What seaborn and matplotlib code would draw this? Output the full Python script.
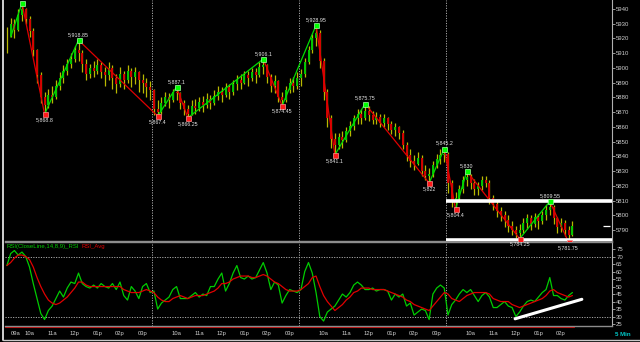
import matplotlib
matplotlib.use("Agg")
import matplotlib.pyplot as plt
from matplotlib.lines import Line2D
import numpy as np
import pandas as pd
import seaborn as sns

# ---------------- data (10-minute bars, 4 sessions) ----------------
close = [
    5922, 5930, 5926, 5936, 5940, 5933, 5925, 5912, 5895, 5880,
    5875, 5882, 5880, 5888, 5893, 5898, 5903, 5906, 5912, 5910,
    5903, 5896, 5900, 5898, 5902, 5897, 5895, 5900, 5893, 5889,
    5896, 5892, 5898, 5894, 5897, 5892, 5890, 5887, 5885,
    5872, 5870, 5876, 5880, 5878, 5884, 5883, 5876, 5872, 5869,
    5874, 5873, 5877, 5875, 5879, 5876, 5881, 5884, 5882, 5887,
    5884, 5889, 5892, 5890, 5895, 5893, 5897, 5895, 5901, 5902,
    5894, 5888, 5891, 5880, 5878, 5885, 5890, 5888, 5893,
    5896, 5904, 5912, 5920, 5924, 5905, 5884, 5866, 5852, 5848,
    5853, 5851, 5857, 5861, 5866, 5869, 5866, 5871, 5868, 5865,
    5867, 5863, 5866, 5862, 5858, 5860, 5856, 5848, 5841, 5837,
    5835, 5839, 5830, 5827, 5828, 5834, 5838, 5841, 5842,
    5822, 5810, 5812, 5818, 5824, 5826, 5822, 5818, 5820, 5824,
    5822, 5812, 5808, 5803, 5800, 5797, 5793, 5790, 5788, 5790,
    5795, 5798, 5794, 5799, 5796, 5800, 5804, 5806, 5798, 5792,
    5795, 5790, 5787, 5793,
]
high = [
    5928, 5934, 5933, 5940, 5944, 5941, 5935, 5927, 5913, 5897,
    5884, 5886, 5888, 5892, 5897, 5902, 5906, 5910, 5915, 5918.85,
    5912, 5906, 5903, 5905, 5906, 5904, 5901, 5904, 5902, 5896,
    5901, 5898, 5902, 5900, 5901, 5898, 5896, 5893, 5891,
    5886, 5878, 5880, 5884, 5883, 5886, 5887.1, 5884, 5878, 5875,
    5878, 5879, 5880, 5881, 5883, 5882, 5885, 5888, 5887, 5890,
    5889, 5892, 5895, 5896, 5898, 5898, 5900, 5900, 5904, 5906.1,
    5903, 5896, 5895, 5892, 5884, 5888, 5893, 5894, 5897,
    5899, 5907, 5915, 5923, 5928.95, 5926, 5907, 5886, 5868, 5856,
    5856, 5857, 5860, 5864, 5868, 5872, 5872, 5875.75, 5874, 5871,
    5870, 5869, 5869, 5867, 5864, 5863, 5861, 5858, 5850, 5845,
    5841, 5843, 5841, 5834, 5832, 5837, 5842, 5845, 5845.2,
    5843, 5824, 5816, 5821, 5827, 5830, 5828, 5825, 5823, 5827,
    5827, 5824, 5814, 5810, 5806, 5803, 5800, 5796, 5793, 5794,
    5798, 5801, 5800, 5802, 5801, 5803, 5807, 5809.55, 5807, 5799,
    5798, 5797, 5793, 5796,
]
low = [
    5910, 5921, 5920, 5925, 5932, 5930, 5921, 5908, 5890, 5876,
    5868.8, 5873, 5876, 5879, 5885, 5890, 5895, 5900, 5904, 5905,
    5897, 5892, 5893, 5894, 5896, 5893, 5888, 5892, 5886, 5883,
    5887, 5886, 5890, 5887, 5889, 5884, 5883, 5880, 5878,
    5868, 5867.4, 5869, 5874, 5873, 5877, 5878, 5872, 5868, 5866.25,
    5868, 5869, 5871, 5870, 5873, 5872, 5875, 5878, 5877, 5880,
    5879, 5882, 5885, 5886, 5889, 5888, 5891, 5890, 5894, 5896,
    5890, 5884, 5883, 5877, 5874.45, 5877, 5883, 5884, 5886,
    5888, 5894, 5903, 5910, 5915, 5900, 5878, 5860, 5846, 5841.1,
    5845, 5846, 5850, 5854, 5858, 5862, 5862, 5865, 5864, 5862,
    5862, 5860, 5860, 5858, 5855, 5854, 5852, 5845, 5837, 5833,
    5831, 5834, 5827, 5824, 5822, 5826, 5832, 5835, 5836,
    5815, 5806, 5804.4, 5809, 5815, 5820, 5818, 5814, 5814, 5817,
    5819, 5808, 5804, 5799, 5796, 5792, 5789, 5787, 5785, 5784.25,
    5788, 5791, 5790, 5792, 5791, 5794, 5797, 5800, 5794, 5788,
    5789, 5786, 5781.75, 5786,
]
rsi = [
    64, 72, 74, 71, 73, 70, 63, 52, 42, 32,
    28, 34, 37, 42, 47, 43, 49, 53, 52, 59,
    52, 50, 49, 51, 49, 52, 50, 49, 52, 48,
    53, 44, 41, 50, 47, 42, 50, 52, 46,
    47, 35, 39, 41, 43, 48, 50, 42, 42, 42,
    44, 46, 43, 45, 44, 50, 50, 55, 59, 47,
    52, 59, 64, 56, 55, 57, 55, 56, 61, 66,
    59, 48, 53, 51, 39, 44, 48, 47, 46,
    48, 60, 66, 59, 46, 30, 27, 33, 35, 37,
    41, 45, 43, 46, 51, 53, 51, 48, 48, 49,
    47, 48, 48, 47, 41, 45, 43, 45, 37, 39,
    31, 33, 35, 34, 28, 45, 49, 51, 49,
    31, 38, 41, 45, 48, 46, 48, 44, 40, 44,
    46, 43, 36, 36, 38, 40, 37, 36, 30, 33,
    37, 40, 41, 40, 43, 46, 48, 56, 44, 44,
    42, 41, 44, 46,
]
rsi_avg = [
    64, 66, 69, 71, 71, 70, 68, 63, 56, 50,
    45, 41, 39, 38, 39, 41, 43, 46, 49, 53,
    53, 51, 50, 50, 50, 50, 50, 50, 50, 50,
    50, 48, 47, 46, 46, 46, 47, 48, 47,
    46, 43, 41, 40, 40, 42, 43, 44, 43, 42,
    43, 44, 44, 44, 45, 46, 47, 49, 52, 52,
    53, 55, 56, 57, 57, 57, 56, 56, 57, 58,
    57, 55, 53, 52, 50, 48, 47, 47, 47,
    48, 50, 52, 56, 57, 50, 44, 40, 37, 34,
    36, 38, 41, 43, 46, 47, 49, 49, 49, 48,
    48, 48, 48, 47, 46, 45, 44, 43, 41, 40,
    38, 37, 36, 35, 34, 37, 40, 43, 46,
    45, 42, 41, 40, 42, 44, 45, 46, 46, 46,
    46, 45, 42, 41, 40, 40, 40, 38, 37, 36,
    37, 38, 39, 40, 41, 42, 44, 47, 48, 46,
    45, 44, 43, 44,
]
# zigzag pivots (bar index, price)
zz_idx = [1, 4, 10, 19, 40, 45, 48, 68, 73, 82, 87, 95, 112, 116, 119, 122, 136, 144, 149]
zz_val = [5921, 5944, 5868.8, 5918.85, 5867.4, 5887.1, 5866.25, 5906.1, 5874.45,
          5928.95, 5841.1, 5875.75, 5822, 5845.2, 5804.4, 5830, 5784.25, 5809.55, 5781.75]
# horizontal levels drawn on the last session
level_vals = [5809.55, 5783.5]
# RSI trend line
trend_x = [134.8, 152.5]
trend_y = [28.5, 41.5]
day_breaks = [38.5, 77.5, 116.5]
hour_pos = [2.3, 6, 12, 18, 24, 30, 36,
            45, 51, 57, 63, 69, 75,
            84, 90, 96, 102, 108, 114,
            123, 129, 135, 141, 147]
hour_lbl = ['09a', '10a', '11a', '12p', '01p', '02p', '03p',
            '10a', '11a', '12p', '01p', '02p', '03p',
            '10a', '11a', '12p', '01p', '02p', '03p',
            '10a', '11a', '12p', '01p', '02p']
price_ticks = list(range(5790, 5941, 10))
rsi_ticks = list(range(25, 76, 5))

# ---------------- style ----------------
sns.set_theme(style="dark")
plt.rcParams['font.family'] = ['Liberation Sans', 'DejaVu Sans']
BG = 'black'
GRID = '#a8a8a8'
TXT = '#cfcfcf'

fig = plt.figure(figsize=(6.4, 3.42), dpi=100, facecolor=BG)
L, W = 5 / 640, 607 / 640
ax_r = fig.add_axes([L, 16 / 342, W, 84 / 342])
ax_p = fig.add_axes([L, 101 / 342, W, 241 / 342])
for ax in (ax_p, ax_r):
    ax.set_facecolor(BG)
    ax.grid(False)
    for s in ax.spines.values():
        s.set_visible(False)
    ax.spines['right'].set_visible(True)
    ax.spines['right'].set_color('#b0b0b0')
    ax.spines['right'].set_linewidth(0.8)

df = pd.DataFrame({'i': np.arange(len(close)), 'close': close, 'high': high, 'low': low})
df['open'] = df['close'].shift(1).fillna(df['close'].iloc[0])
up = df[df.close >= df.open]
dn = df[df.close < df.open]

# ---------------- price panel ----------------
ax_p.vlines(df.i, df.low, df.high, color='#b8b800', lw=0.9, zorder=2)
ax_p.vlines(up.i, up.open, up.close, color='#00c800', lw=1.4, zorder=2)
ax_p.vlines(dn.i, dn.open, dn.close, color='#d40000', lw=1.4, zorder=2)

for k in range(len(zz_idx) - 1):
    c = '#00dd00' if zz_val[k + 1] > zz_val[k] else '#e00000'
    ax_p.plot(zz_idx[k:k + 2], zz_val[k:k + 2], color=c, lw=0.9, zorder=3)

for k in range(1, len(zz_idx)):
    is_high = zz_val[k] > zz_val[k - 1]
    ax_p.plot(zz_idx[k], zz_val[k], marker='s', ms=3.6, mew=0.5,
              color='#00ff00' if is_high else '#ff1a1a',
              mec='#a0ffa0' if is_high else '#ff9090', zorder=6)
    if k == 1:
        continue
    lbl = f"{zz_val[k]:,.2f}".rstrip('0').rstrip('.')
    ax_p.annotate(lbl, (zz_idx[k], zz_val[k]), xytext=(0, 2.2 if is_high else -2.2),
                  textcoords='offset points', ha='center',
                  va='bottom' if is_high else 'top', fontsize=3.8,
                  color='#e8e8e8', zorder=7, annotation_clip=False)

for v in level_vals:
    ax_p.hlines(v, day_breaks[-1], 160.5, color='white', lw=2.6, zorder=4)
ax_p.hlines(close[-1], 158.2, 159.9, color='white', lw=0.9, zorder=4, clip_on=False)

for b in day_breaks:
    ax_p.axvline(b, color=GRID, lw=0.7, ls=(0, (1.2, 1.4)), zorder=1)

ax_p.set_xlim(-0.5, 160.5)
ax_p.set_ylim(5782.7, 5946.1)
ax_p.yaxis.tick_right()
ax_p.set_yticks(price_ticks)
ax_p.set_yticklabels([str(t) for t in price_ticks])
ax_p.set_xticks([])
ax_p.tick_params(axis='y', colors='#b0b0b0', labelcolor=TXT, labelsize=4.3,
                 length=2, width=0.6, pad=1, direction='out')
ax_p.spines['bottom'].set_visible(True)
ax_p.spines['bottom'].set_color('#8c8c8c')
ax_p.spines['bottom'].set_linewidth(1.0)
ax_p.set_xlabel('')
ax_p.set_ylabel('')

# ---------------- RSI panel ----------------
xi = np.arange(len(rsi))
sns.lineplot(x=xi, y=rsi, ax=ax_r, color='#00cc00', lw=0.9, zorder=3)
sns.lineplot(x=xi, y=rsi_avg, ax=ax_r, color='#e00000', lw=0.9, zorder=4)
ax_r.plot(trend_x, trend_y, color='white', lw=2.2, solid_capstyle='round', zorder=5)

for h in (70, 30):
    ax_r.axhline(h, color=GRID, lw=0.7, ls=(0, (1.2, 1.4)), zorder=1)
for b in day_breaks:
    ax_r.axvline(b, color=GRID, lw=0.7, ls=(0, (1.2, 1.4)), zorder=1)

ax_r.set_xlim(-0.5, 160.5)
ax_r.set_ylim(23.7, 79.7)
ax_r.yaxis.tick_right()
ax_r.set_yticks(rsi_ticks)
ax_r.set_yticklabels([str(t) for t in rsi_ticks])
ax_r.set_xticks(hour_pos)
ax_r.set_xticklabels(hour_lbl)
ax_r.tick_params(axis='y', colors='#b0b0b0', labelcolor=TXT, labelsize=4.3,
                 length=2, width=0.6, pad=1, direction='out')
ax_r.tick_params(axis='x', colors='#d00000', labelcolor=TXT, labelsize=4.2,
                 length=1.5, width=0.7, pad=2.2, direction='out')
for s in ('top', 'bottom'):
    ax_r.spines[s].set_visible(True)
    ax_r.spines[s].set_color('#8c8c8c')
    ax_r.spines[s].set_linewidth(1.0)
ax_r.plot([-0.5, 150.5], [22.9, 22.9], color='#c00000', lw=0.8, clip_on=False, zorder=2)
ax_r.set_xlabel('')
ax_r.set_ylabel('')

ax_r.text(0.002, 0.975, 'RSI(CloseLine,14,8,9)_RSI', transform=ax_r.transAxes,
          color='#00cc00', fontsize=4.3, va='top', ha='left')
ax_r.text(0.126, 0.975, 'RSI_Avg', transform=ax_r.transAxes,
          color='#e00000', fontsize=4.3, va='top', ha='left')

fig.text(615 / 640, 1 - 334 / 342, '5 Min', color='#00c8c8', fontsize=4.4,
         fontweight='bold', va='center', ha='left')

# outer frame lines
fig.add_artist(Line2D([2.5 / 640, 2.5 / 640], [2.5 / 342, 1], color='#e0e0e0', lw=1.3))
fig.add_artist(Line2D([2.5 / 640, 1], [2.5 / 342, 2.5 / 342], color='#c8c8c8', lw=1.0))

fig.savefig('out.png', dpi=100, facecolor=BG)
